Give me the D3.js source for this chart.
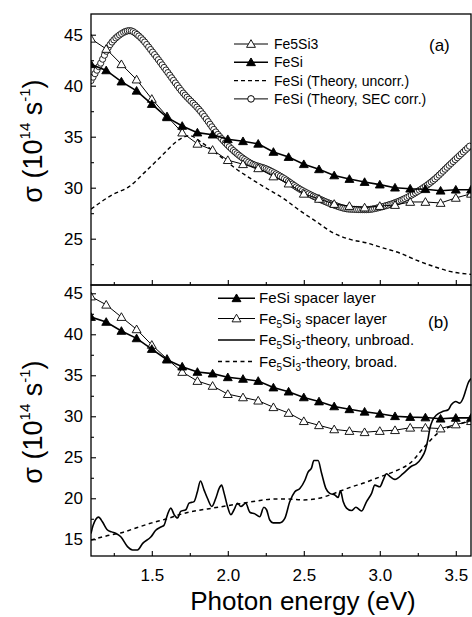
<!DOCTYPE html>
<html><head><meta charset="utf-8">
<script src="https://cdn.jsdelivr.net/npm/d3@7"></script>
<style>
body{margin:0;background:#fff;}
svg{display:block;font-family:"Liberation Sans",Arial,Helvetica,sans-serif;}
</style></head><body>
<svg id="c" width="472" height="617"></svg>
<script>
// ---------- data ----------
const energies = [1.1,1.2,1.3,1.4,1.5,1.6,1.7,1.8,1.9,2.0,2.1,2.2,2.3,2.4,2.5,2.6,2.7,2.8,2.9,3.0,3.1,3.2,3.3,3.4,3.5,3.6];
const fe5si3 = [44.6,43.6,42.1,40.6,38.7,37.0,35.4,34.3,33.7,32.7,32.3,31.9,31.1,30.4,29.4,28.9,28.4,28.2,28.05,28.2,28.3,28.6,28.6,28.5,29.0,29.4];
const fesi = [42.1,41.5,40.4,39.5,38.2,36.9,36.05,35.4,35.2,34.75,34.55,34.3,33.5,33.0,32.3,31.8,31.2,30.85,30.55,30.3,30.0,29.9,29.85,29.7,29.8,29.8];

const secE = [1.10,1.16,1.22,1.29,1.355,1.42,1.51,1.60,1.70,1.82,1.93,2.04,2.15,2.26,2.36,2.47,2.58,2.69,2.80,2.91,3.02,3.13,3.24,3.35,3.46,3.60];
const secV = [40.5,42.1,43.9,45.0,45.4,44.8,43.2,41.4,39.4,37.5,35.3,33.6,32.4,31.8,31.0,29.9,29.05,28.35,27.9,27.85,28.15,28.7,29.55,30.7,32.25,34.2];

const uncorrE = [1.10,1.24,1.35,1.46,1.57,1.66,1.70,1.75,1.83,1.94,2.05,2.16,2.27,2.36,2.47,2.58,2.69,2.80,2.91,3.02,3.13,3.24,3.35,3.46,3.60];
const uncorrV = [27.9,29.3,30.1,31.6,33.2,34.5,34.9,35.1,34.4,33.2,31.9,30.8,29.8,29.0,27.8,26.7,25.6,24.95,24.6,24.1,23.6,22.9,22.3,21.8,21.5];

const unbroadE = [1.100,1.114,1.150,1.176,1.205,1.235,1.265,1.296,1.340,1.373,1.406,1.440,1.495,1.526,1.560,1.580,1.603,1.625,1.647,1.669,1.690,1.724,1.745,1.778,1.800,1.820,1.844,1.866,1.895,1.921,1.943,1.959,1.976,1.998,2.020,2.041,2.064,2.086,2.118,2.145,2.178,2.210,2.237,2.255,2.276,2.298,2.342,2.375,2.408,2.441,2.474,2.507,2.528,2.551,2.566,2.594,2.617,2.645,2.671,2.704,2.726,2.741,2.759,2.781,2.814,2.843,2.880,2.913,2.946,2.967,3.000,3.022,3.044,3.070,3.099,3.153,3.208,3.240,3.274,3.300,3.318,3.329,3.347,3.373,3.417,3.450,3.470,3.500,3.526,3.548,3.566,3.580,3.600];
const unbroadV = [15.7,16.7,17.7,17.1,16.2,15.9,15.7,15.3,14.1,13.7,13.7,14.5,15.3,16.1,16.5,16.7,18.0,18.8,18.0,17.6,18.4,18.6,19.4,19.6,20.8,22.1,21.0,20.0,19.0,20.0,21.2,21.6,20.6,19.0,18.0,18.6,19.4,19.0,19.4,18.3,18.1,17.75,18.9,18.6,17.35,17.0,17.0,17.55,19.6,20.8,21.2,22.2,23.2,23.7,24.6,24.6,23.05,21.2,20.6,20.4,20.1,20.9,19.6,18.8,18.5,18.9,18.45,19.6,20.6,21.6,21.4,22.2,23.0,22.6,22.3,23.0,23.9,24.2,24.9,25.9,27.3,28.5,29.5,30.15,30.6,30.8,31.4,31.8,31.6,32.2,33.2,34.0,34.6];

const broadE = [1.1,1.2,1.3,1.4,1.5,1.6,1.7,1.8,1.9,2.0,2.1,2.2,2.3,2.4,2.5,2.6,2.7,2.8,2.9,3.0,3.1,3.2,3.3,3.4,3.5,3.6];
const broadV = [14.9,15.4,15.8,16.4,17.0,17.5,18.1,18.5,18.8,19.1,19.4,19.7,19.9,19.9,19.8,20.0,20.6,21.3,21.9,22.6,23.3,24.3,26.4,28.2,28.9,29.5];

const xTicks = [1.5,2.0,2.5,3.0,3.5];
const xMinor = [1.25,1.75,2.25,2.75,3.25];
const yTicksA = [25,30,35,40,45];
const yMinorA = [22.5,27.5,32.5,37.5,42.5];
const yTicksB = [15,20,25,30,35,40,45];
const yMinorB = [17.5,22.5,27.5,32.5,37.5,42.5];

const legendA = ["Fe5Si3","FeSi","FeSi (Theory, uncorr.)","FeSi (Theory, SEC corr.)"];

// ---------- layout ----------
const L = 91, R = 471, TA = 14, MID = 285, BB = 556;
const svg = d3.select("#c");
const x = d3.scaleLinear().domain([1.1,3.6]).range([L,R]);
const yA = d3.scaleLinear().domain([20.46,47.03]).range([MID,TA]);
const yB = d3.scaleLinear().domain([12.96,46.01]).range([BB,MID]);

const defs = svg.append("defs");
defs.append("clipPath").attr("id","clipA").append("rect").attr("x",L).attr("y",TA).attr("width",R-L).attr("height",MID-TA);
defs.append("clipPath").attr("id","clipB").append("rect").attr("x",L).attr("y",MID).attr("width",R-L).attr("height",BB-MID);

const tri = d3.symbol().type(d3.symbolTriangle).size(34);

function lineFor(y, curve){ return d3.line().x(d=>x(d[0])).y(d=>y(d[1])).curve(curve||d3.curveLinear); }

function drawTriSeries(g, y, vals, filled, sw){
  const data = d3.zip(energies, vals);
  g.append("path").datum(data).attr("d", lineFor(y)).attr("fill","none").attr("stroke","#000").attr("stroke-width",sw);
  g.selectAll(null).data(data).enter().append("path")
    .attr("d", tri).attr("transform", d=>`translate(${x(d[0])},${y(d[1])+0.8})`)
    .attr("fill", filled?"#000":"#fff").attr("stroke","#000").attr("stroke-width",0.9);
}

// ---------- panel (a) ----------
const gA = svg.append("g").attr("clip-path","url(#clipA)");
const secPath = gA.append("path").datum(d3.zip(secE,secV)).attr("d", lineFor(yA, d3.curveMonotoneX))
  .attr("fill","none").attr("stroke","#000").attr("stroke-width",1);
(function(){
  const node = secPath.node(), len = node.getTotalLength();
  const pts = []; let nx = -Infinity;
  for(let l=0;l<=len;l+=0.4){ const p=node.getPointAtLength(l); if(p.x>=nx){pts.push(p); nx=p.x+1.8;} }
  gA.selectAll(null).data(pts).enter().append("circle").attr("cx",d=>d.x).attr("cy",d=>d.y).attr("r",3.1)
    .attr("fill","#fff").attr("stroke","#000").attr("stroke-width",0.85);
})();
gA.append("path").datum(d3.zip(uncorrE,uncorrV)).attr("d", lineFor(yA, d3.curveMonotoneX))
  .attr("fill","none").attr("stroke","#000").attr("stroke-width",1.4).attr("stroke-dasharray","4,3");
drawTriSeries(gA, yA, fe5si3, false, 1.0);
drawTriSeries(gA, yA, fesi, true, 1.6);

// ---------- panel (b) ----------
const gB = svg.append("g").attr("clip-path","url(#clipB)");
gB.append("path").datum(d3.zip(broadE,broadV)).attr("d", lineFor(yB, d3.curveMonotoneX))
  .attr("fill","none").attr("stroke","#000").attr("stroke-width",1.5).attr("stroke-dasharray","4,3.5");
gB.append("path").datum(d3.zip(unbroadE,unbroadV)).attr("d", lineFor(yB, d3.curveMonotoneX))
  .attr("fill","none").attr("stroke","#000").attr("stroke-width",1.6);
drawTriSeries(gB, yB, fe5si3, false, 1.0);
drawTriSeries(gB, yB, fesi, true, 1.6);

// ---------- axes ----------
function styleAxis(g, fs){ g.select(".domain").remove(); g.selectAll("line").attr("stroke","#000").attr("stroke-width",1.1);
  g.selectAll("text").attr("font-size",fs).attr("fill","#000").attr("font-family","Liberation Sans, Arial, sans-serif"); }

svg.append("g").attr("transform",`translate(${L},0)`).call(d3.axisLeft(yA).tickValues(yTicksA).tickSize(-5).tickPadding(8)).call(styleAxis,17);
svg.append("g").attr("transform",`translate(${L},0)`).call(d3.axisLeft(yA).tickValues(yMinorA).tickSize(-3).tickFormat("")).call(styleAxis,17);
svg.append("g").attr("transform",`translate(0,${MID})`).call(d3.axisBottom(x).tickValues(xTicks).tickSize(-5).tickFormat("")).call(styleAxis,17);
svg.append("g").attr("transform",`translate(0,${MID})`).call(d3.axisBottom(x).tickValues(xMinor).tickSize(-3).tickFormat("")).call(styleAxis,17);
svg.append("g").attr("transform",`translate(${L},0)`).call(d3.axisLeft(yB).tickValues(yTicksB).tickSize(-5).tickPadding(8)).call(styleAxis,17);
svg.append("g").attr("transform",`translate(${L},0)`).call(d3.axisLeft(yB).tickValues(yMinorB).tickSize(-3).tickFormat("")).call(styleAxis,17);
svg.append("g").attr("transform",`translate(0,${BB})`).call(d3.axisBottom(x).tickValues(xTicks).tickSize(-5).tickPadding(13).tickFormat(d3.format(".1f"))).call(styleAxis,17);
svg.append("g").attr("transform",`translate(0,${BB})`).call(d3.axisBottom(x).tickValues(xMinor).tickSize(-3).tickFormat("")).call(styleAxis,17);

svg.append("rect").attr("x",L).attr("y",TA).attr("width",R-L).attr("height",MID-TA).attr("fill","none").attr("stroke","#000").attr("stroke-width",1.3);
svg.append("rect").attr("x",L).attr("y",MID).attr("width",R-L).attr("height",BB-MID).attr("fill","none").attr("stroke","#000").attr("stroke-width",1.3);

function yTitle(cx, cy){
  const t = svg.append("text").attr("transform",`translate(${cx},${cy}) rotate(-90)`).attr("text-anchor","middle").attr("font-size",27).attr("fill","#000");
  t.append("tspan").text("σ (10");
  t.append("tspan").attr("font-size",15).attr("dy",-12).text("14");
  t.append("tspan").attr("dy",12).text(" s");
  t.append("tspan").attr("font-size",15).attr("dy",-12).text("-1");
  t.append("tspan").attr("dy",12).text(")");
}
yTitle(42,141);
yTitle(42,422);
svg.append("text").attr("x",303).attr("y",610).attr("text-anchor","middle").attr("font-size",26).attr("fill","#000").text("Photon energy (eV)");

// ---------- legends ----------
const legA = svg.append("g");
const rowA = [44,62.3,80.6,98.9];
legendA.forEach((lab,i)=>{
  const y = rowA[i];
  const ln = legA.append("line").attr("x1",234).attr("x2",268).attr("y1",y).attr("y2",y).attr("stroke","#000");
  if(i===0){ ln.attr("stroke-width",1); legA.append("path").attr("d",tri).attr("transform",`translate(251,${y+0.8})`).attr("fill","#fff").attr("stroke","#000").attr("stroke-width",0.9); }
  if(i===1){ ln.attr("stroke-width",1.6); legA.append("path").attr("d",tri).attr("transform",`translate(251,${y+0.8})`).attr("fill","#000").attr("stroke","#000"); }
  if(i===2){ ln.attr("stroke-width",1.3).attr("stroke-dasharray","4,3"); }
  if(i===3){ ln.attr("stroke-width",1); legA.append("circle").attr("cx",251).attr("cy",y).attr("r",3.3).attr("fill","#fff").attr("stroke","#000"); }
  legA.append("text").attr("x",274).attr("y",y+5).attr("font-size",14).attr("fill","#000").text(lab);
});
svg.append("text").attr("x",429).attr("y",51).attr("font-size",17).attr("fill","#000").text("(a)");

const legB = svg.append("g");
const rowB = [298.3,318.5,340,361.5];
function subLabel(t, parts){
  parts.forEach(p=>{ const s=t.append("tspan").text(p[0]); if(p[1]){ s.attr("font-size",10).attr("dy",4); } else if(p[2]) { s.attr("dy",-4); } });
}
rowB.forEach((y,i)=>{
  const ln = legB.append("line").attr("x1",218).attr("x2",255).attr("y1",y).attr("y2",y).attr("stroke","#000");
  const t = legB.append("text").attr("x",259).attr("y",y+5).attr("font-size",15).attr("fill","#000");
  if(i===0){ ln.attr("stroke-width",1.6); legB.append("path").attr("d",tri).attr("transform",`translate(236.5,${y+0.8})`).attr("fill","#000").attr("stroke","#000");
    t.text("FeSi spacer layer"); }
  if(i===1){ ln.attr("stroke-width",1); legB.append("path").attr("d",tri).attr("transform",`translate(236.5,${y+0.8})`).attr("fill","#fff").attr("stroke","#000").attr("stroke-width",0.9);
    subLabel(t,[["Fe"],["5",1],["Si",0,1],["3",1],[" spacer layer",0,1]]); }
  if(i===2){ ln.attr("stroke-width",1.6);
    subLabel(t,[["Fe"],["5",1],["Si",0,1],["3",1],["-theory, unbroad.",0,1]]); }
  if(i===3){ ln.attr("stroke-width",1.4).attr("stroke-dasharray","4,3.5");
    subLabel(t,[["Fe"],["5",1],["Si",0,1],["3",1],["-theory, broad.",0,1]]); }
});
svg.append("text").attr("x",428).attr("y",328).attr("font-size",17).attr("fill","#000").text("(b)");
</script>
</body></html>
